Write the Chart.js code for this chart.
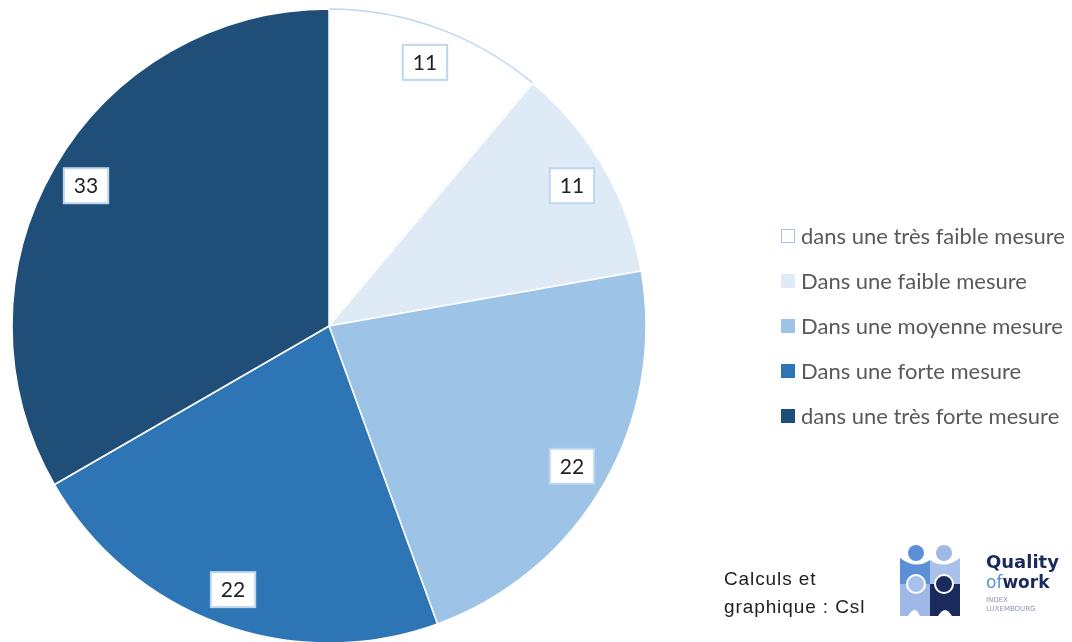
<!DOCTYPE html>
<html>
<head>
<meta charset="utf-8">
<script src="https://cdn.jsdelivr.net/npm/chart.js@4.4.1/dist/chart.umd.min.js"></script>
<style>
  html, body { margin: 0; padding: 0; background: #fff; }
  #wrap { position: relative; width: 1072px; height: 642px; overflow: hidden; }
  #legend { position: absolute; left: 781px; top: 223px; font-family: Lato, "Open Sans", sans-serif; font-size: 22px; color: #595959; }
  #legend .row { height: 45px; line-height: 26px; white-space: nowrap; }
  #legend .sw { display: inline-block; width: 12px; height: 12px; margin-right: 6px; vertical-align: 1px; }
  #source { position: absolute; left: 724px; top: 565px; font-family: "Liberation Sans", Arial, sans-serif; font-size: 19px; letter-spacing: 0.9px; line-height: 28px; color: #222; }
  #logo { position: absolute; left: 900px; top: 544px; }
</style>
</head>
<body>
<div id="wrap">
  <canvas id="chart" width="1072" height="642"></canvas>
  <div id="legend"></div>
  <div id="source">Calculs et<br>graphique : Csl</div>
  <svg id="logo" width="165" height="75" viewBox="0 0 165 75">
    <circle cx="16" cy="9" r="8" fill="#5b8fd6"/>
    <circle cx="44" cy="9" r="8" fill="#9fb8e6"/>
    <path d="M0 14 Q16 26 30 16 L30 40 L0 40 Z" fill="#5b8fd6"/>
    <path d="M30 16 Q44 26 60 14 L60 40 L30 40 Z" fill="#a9c0ea"/>
    <path d="M0 40 L30 40 L30 72 L20 72 Q15 60 8 72 L0 72 Z" fill="#9fb8e6"/>
    <path d="M30 40 L60 40 L60 72 L52 72 Q45 60 38 72 L30 72 Z" fill="#1a2a5c"/>
    <circle cx="16" cy="40" r="9" fill="#a9c0ea" stroke="#fff" stroke-width="2"/>
    <circle cx="44" cy="40" r="9" fill="#1a2a5c" stroke="#fff" stroke-width="2"/>
    <text x="86" y="24" font-family="'DejaVu Sans', sans-serif" font-weight="bold" font-size="18" fill="#1a2a5c">Quality</text>
    <text x="86" y="44" font-family="'DejaVu Sans', sans-serif" font-size="17" fill="#5b8fd6">of<tspan font-weight="bold" fill="#1a2a5c">work</tspan></text>
    <text x="86" y="58" font-family="'DejaVu Sans', sans-serif" font-size="7" fill="#8a96ad">INDEX</text>
    <text x="86" y="67" font-family="'DejaVu Sans', sans-serif" font-size="7" fill="#8a96ad">LUXEMBOURG</text>
  </svg>
</div>
<script>
// donnees
var labels = [
  "dans une très faible mesure",
  "Dans une faible mesure",
  "Dans une moyenne mesure",
  "Dans une forte mesure",
  "dans une très forte mesure"
];
var values = [11, 11, 22, 22, 33];
var colors = ["#FFFFFF", "#DEEBF7", "#9DC3E6", "#2E75B6", "#1F4E79"];
var borders = ["#BDD7EE", "#FFFFFF", "#FFFFFF", "#FFFFFF", "#FFFFFF"];

// legende html
var legend = document.getElementById('legend');
labels.forEach(function(lbl, i){
  var row = document.createElement('div');
  row.className = 'row';
  var sw = document.createElement('span');
  sw.className = 'sw';
  sw.style.background = colors[i];
  sw.style.border = '1px solid ' + (i === 0 ? '#9DC3E6' : colors[i]);
  row.appendChild(sw);
  row.appendChild(document.createTextNode(lbl));
  legend.appendChild(row);
});

// etiquettes dans des cadres
var boxLabels = {
  id: 'boxLabels',
  afterDatasetsDraw: function(chart){
    var ctx = chart.ctx;
    var meta = chart.getDatasetMeta(0);
    ctx.save();
    ctx.font = '21px Lato, "Open Sans", sans-serif';
    ctx.textAlign = 'center';
    ctx.textBaseline = 'middle';
    meta.data.forEach(function(arc, i){
      var mid = (arc.startAngle + arc.endAngle) / 2;
      var r = arc.outerRadius * 0.885;
      var x = arc.x + Math.cos(mid) * r;
      var y = arc.y + Math.sin(mid) * r;
      var txt = String(values[i]);
      var w = ctx.measureText(txt).width + 20;
      var h = 35;
      ctx.fillStyle = '#fff';
      ctx.fillRect(x - w / 2, y - h / 2, w, h);
      ctx.strokeStyle = '#BDD7EE';
      ctx.lineWidth = 2;
      ctx.strokeRect(x - w / 2, y - h / 2, w, h);
      ctx.fillStyle = '#222';
      ctx.fillText(txt, x, y + 1);
    });
    ctx.restore();
  }
};

new Chart(document.getElementById('chart'), {
  type: 'pie',
  data: {
    labels: labels,
    datasets: [{
      data: values,
      backgroundColor: colors,
      borderColor: borders,
      borderWidth: 1.5
    }]
  },
  options: {
    responsive: false,
    animation: false,
    radius: 317,
    layout: { padding: { left: 12, right: 426, top: 10, bottom: 0 } },
    plugins: { legend: { display: false }, tooltip: { enabled: false } }
  },
  plugins: [boxLabels]
});
</script>
</body>
</html>
